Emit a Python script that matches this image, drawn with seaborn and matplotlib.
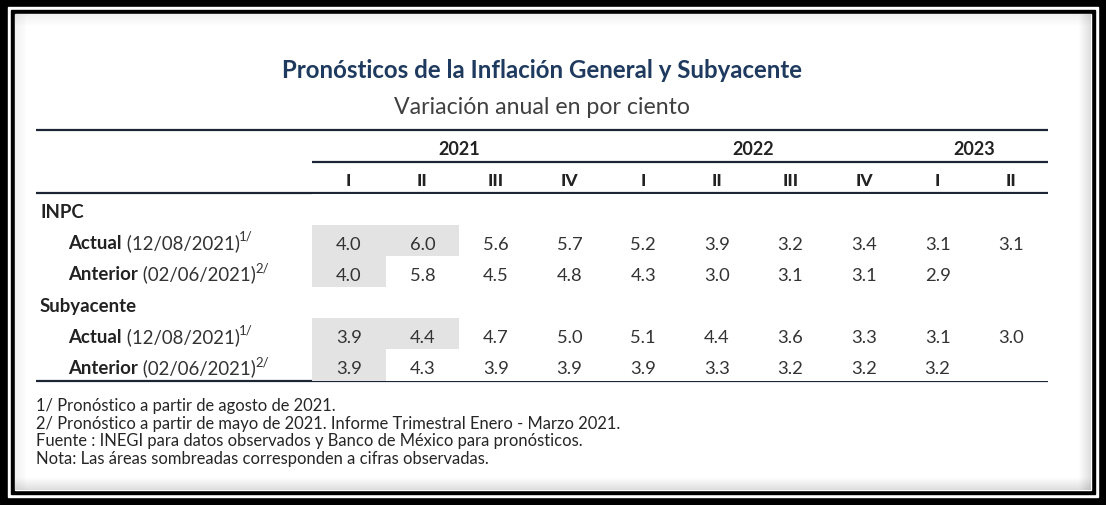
import numpy as np
import pandas as pd
import matplotlib
matplotlib.use("Agg")
import matplotlib.pyplot as plt
import seaborn as sns
from matplotlib.patches import Rectangle
from matplotlib.colors import ListedColormap

# ---------------- data ----------------
title = "Pronósticos de la Inflación General y Subyacente"
subtitle = "Variación anual en por ciento"
years = ["2021", "2022", "2023"]
year_quarters = [4, 4, 2]
quarters = ["I", "II", "III", "IV", "I", "II", "III", "IV", "I", "II"]
sections = ["INPC", "Subyacente"]
row_names = ["Actual", "Anterior"]
row_dates = ["(12/08/2021)", "(02/06/2021)"]
row_notes = ["1/", "2/"]
inpc_actual = [4.0, 6.0, 5.6, 5.7, 5.2, 3.9, 3.2, 3.4, 3.1, 3.1]
inpc_anterior = [4.0, 5.8, 4.5, 4.8, 4.3, 3.0, 3.1, 3.1, 2.9, None]
sub_actual = [3.9, 4.4, 4.7, 5.0, 5.1, 4.4, 3.6, 3.3, 3.1, 3.0]
sub_anterior = [3.9, 4.3, 3.9, 3.9, 3.9, 3.3, 3.2, 3.2, 3.2, None]
observed_quarters = [2, 1, 2, 1]  # shaded (observed) cells per data row
footnotes = [
    "1/ Pronóstico a partir de agosto de 2021.",
    "2/ Pronóstico a partir de mayo de 2021. Informe Trimestral Enero - Marzo 2021.",
    "Fuente : INEGI para datos observados y Banco de México para pronósticos.",
    "Nota: Las áreas sombreadas corresponden a cifras observadas.",
]

# ---------------- style ----------------
sns.set_theme(style="white")
FONT = ["Lato", "DejaVu Sans"]
plt.rcParams["font.family"] = FONT
NAVY = "#1f3a5f"
TXT = "#333333"
RULE = "#1c2536"
SHADE = "#e3e3e3"

W, H = 1106, 506
fig = plt.figure(figsize=(W / 100, H / 100), dpi=100)
fig.patch.set_facecolor("black")

bg = fig.add_axes([0, 0, 1, 1])
bg.set_xlim(0, W)
bg.set_ylim(H, 0)
bg.set_axis_off()

# frame
bg.add_patch(Rectangle((0, 0), W, H, color="black", zorder=0))
bg.add_patch(Rectangle((8, 8), W - 16, H - 16, color="white", zorder=0.1))
bg.add_patch(Rectangle((11, 11), W - 22, H - 22, color="black", zorder=0.2))
bg.add_patch(Rectangle((15, 15), W - 30, H - 30, color="white", zorder=0.3))
# inner shadow
for k in range(12):
    a = 0.08 * (1 - k / 12)
    bg.add_patch(Rectangle((15, 15 + k), W - 30, 1, color="black", alpha=a * 0.7, lw=0, zorder=0.4))
    bg.add_patch(Rectangle((15 + k, 15), 1, H - 30, color="black", alpha=a * 0.7, lw=0, zorder=0.4))
    bg.add_patch(Rectangle((15, H - 16 - k), W - 30, 1, color="black", alpha=a * 1.6, lw=0, zorder=0.4))
    bg.add_patch(Rectangle((W - 16 - k, 15), 1, H - 30, color="black", alpha=a * 1.6, lw=0, zorder=0.4))

# table geometry (pixels)
left, tab_l, tab_r = 36, 312, 1048
top_rule, year_rule, head_rule, bot_rule = 131, 163, 194, 382
ncol = len(quarters)
cw = (tab_r - tab_l) / ncol
nrow = 6
rh = (bot_rule - head_rule) / nrow

# titles
bg.text(542, 70, title, ha="center", va="center", fontsize=17.3, fontweight="bold", color=NAVY)
bg.text(542, 107, subtitle, ha="center", va="center", fontsize=16.7, color="#404040")

# rules
bg.plot([left, tab_r], [top_rule, top_rule], color=RULE, lw=1.6, solid_capstyle="butt")
bg.plot([tab_l, tab_r], [year_rule, year_rule], color=RULE, lw=1.6, solid_capstyle="butt")
bg.plot([left, tab_r], [head_rule, head_rule], color=RULE, lw=1.6, solid_capstyle="butt")
bg.plot([left, tab_r], [bot_rule, bot_rule], color=RULE, lw=1.6, solid_capstyle="butt")

# year headers
start = 0
for y, n in zip(years, year_quarters):
    cx = tab_l + cw * (start + n / 2)
    bg.text(cx, 149, y, ha="center", va="center", fontsize=13, fontweight="bold", color="#222222")
    start += n
for i, q in enumerate(quarters):
    bg.text(tab_l + cw * (i + 0.5), 181, q, ha="center", va="center", fontsize=12.5,
            fontweight="black", color="#222222")

# row labels
label_fs = 13.4
for s, sec in enumerate(sections):
    r0 = 3 * s
    bg.text(40, head_rule + rh * (r0 + 0.5) + 3, sec, ha="left", va="center", fontsize=label_fs,
            fontweight="bold", color="#222222")
    for j in range(2):
        yb = head_rule + rh * (r0 + 1 + j + 0.5) + 8
        t1 = bg.text(68, yb, row_names[j], ha="left", va="baseline", fontsize=label_fs,
                     fontweight="bold", color="#222222")
        t2 = bg.annotate(" " + row_dates[j], xy=(1, 0), xycoords=t1, ha="left", va="bottom",
                         fontsize=label_fs, color=TXT)
        bg.annotate(row_notes[j], xy=(1, 1), xycoords=t2, xytext=(-0.5, -2), textcoords="offset points",
                    ha="left", va="center", fontsize=9.5, color=TXT)

# footnotes
for k, line in enumerate(footnotes):
    bg.text(36, 406 + 17.6 * k, line, ha="left", va="center", fontsize=11.9, color="#262626")

# ---------------- data cells via seaborn heatmap ----------------
rows = [[None] * ncol, inpc_actual, inpc_anterior, [None] * ncol, sub_actual, sub_anterior]
data_rows = [1, 2, 4, 5]
shade = np.zeros((nrow, ncol))
for r, n in zip(data_rows, observed_quarters):
    shade[r, :n] = 1
annot = np.array([["" if v is None else f"{v:.1f}" for v in row] for row in rows], dtype=object)
shade_df = pd.DataFrame(shade, columns=quarters)

hax = fig.add_axes([tab_l / W, 1 - (bot_rule - 0.5) / H, (tab_r - tab_l) / W, (bot_rule - 0.5 - head_rule - 1) / H])
hax.patch.set_alpha(0)
sns.heatmap(shade_df, ax=hax, cmap=ListedColormap(["white", SHADE]), vmin=0, vmax=1, cbar=False,
            annot=annot, fmt="", annot_kws=dict(color=TXT, fontsize=13.2), xticklabels=False,
            yticklabels=False, linewidths=0)
for t in hax.texts:
    x, y = t.get_position()
    t.set_position((x, y + 0.1))
hax.set_xlabel("")
hax.set_ylabel("")
hax.tick_params(left=False, bottom=False)

fig.savefig("out.png", dpi=100, facecolor="black")
